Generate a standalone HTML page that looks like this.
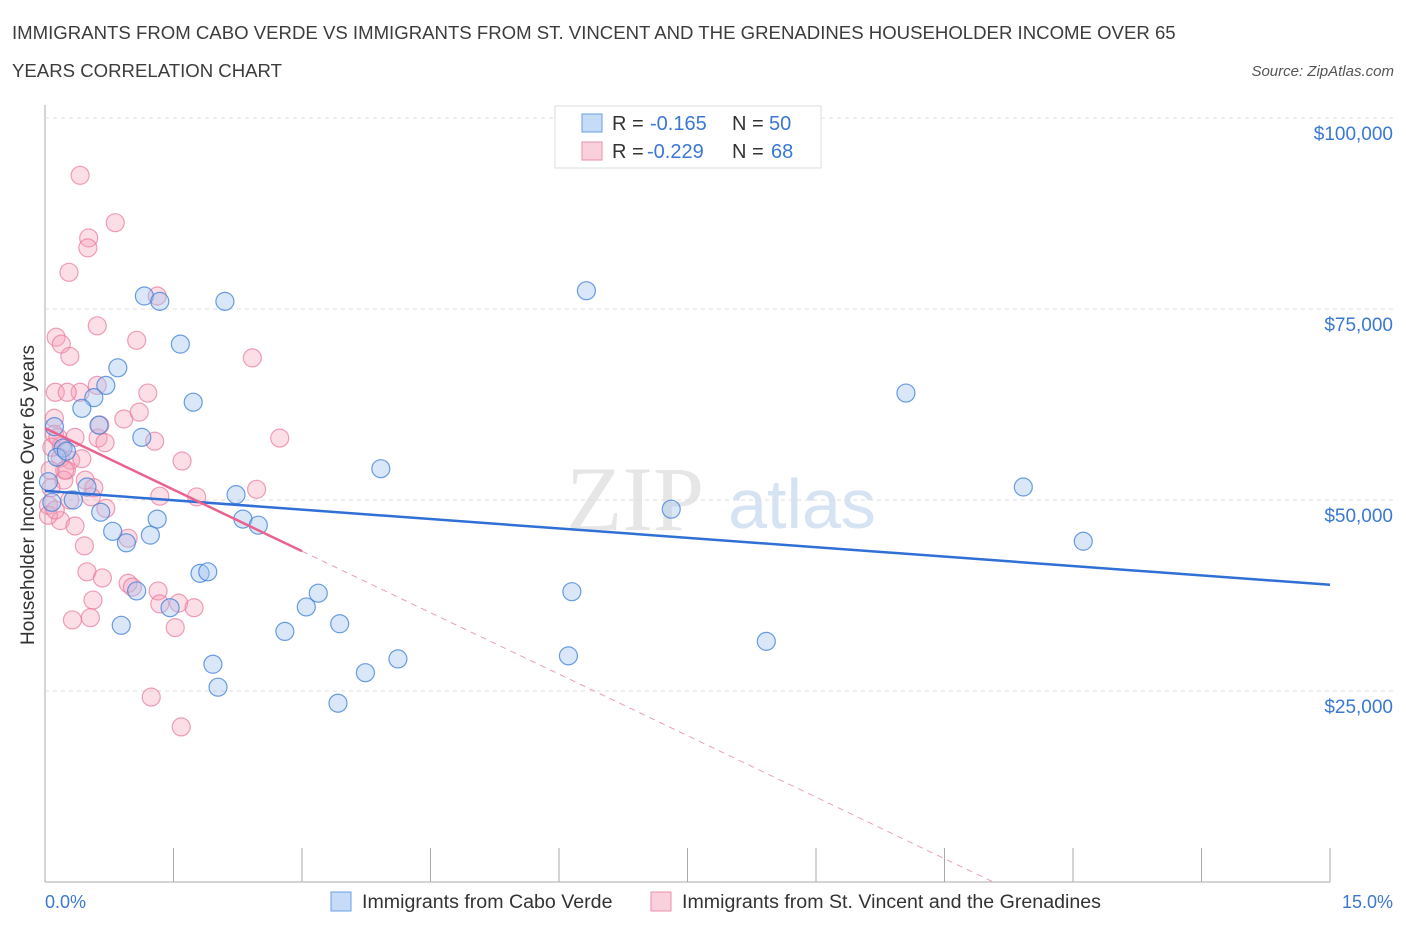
<!DOCTYPE html>
<html><head><meta charset="utf-8"><style>
body{margin:0;background:#fff;font-family:"Liberation Sans",sans-serif}
</style></head><body>
<svg id="c" width="1406" height="930" xmlns="http://www.w3.org/2000/svg" style="font-family:'Liberation Sans',sans-serif">
<text x="12" y="39" font-size="18.6" fill="#3c3c3c">IMMIGRANTS FROM CABO VERDE VS IMMIGRANTS FROM ST. VINCENT AND THE GRENADINES HOUSEHOLDER INCOME OVER 65</text>
<text x="12" y="77" font-size="18.6" fill="#3c3c3c">YEARS CORRELATION CHART</text>
<text x="1394" y="76" font-size="15" font-style="italic" fill="#555" text-anchor="end">Source: ZipAtlas.com</text>
<text x="635" y="530" font-size="92" fill="#e6e6e6" font-family="Liberation Serif,serif" text-anchor="middle">ZIP</text>
<text x="802" y="528" font-size="70" fill="#d6e3f3" text-anchor="middle">atlas</text>
<g id="grid"></g><g id="pts"></g><g id="lines"></g>
<text x="28" y="495" font-size="19" fill="#333" transform="rotate(-90 28 495)" text-anchor="middle" dy="6">Householder Income Over 65 years</text>
<text x="45" y="908" font-size="18" fill="#3b78d4">0.0%</text>
<text x="1393" y="908" font-size="18" fill="#3b78d4" text-anchor="end">15.0%</text>
<g>
<rect x="555" y="106" width="266" height="62" fill="#fff" stroke="#ddd"/>
<rect x="582" y="114" width="20" height="18" fill="#c6dbf7" stroke="#6a9fe0"/>
<rect x="582" y="142" width="20" height="18" fill="#f9d0dc" stroke="#eb8fab"/>
<text x="612" y="130" font-size="20" fill="#333">R =</text>
<text x="650" y="130" font-size="20" fill="#3b78d4">-0.165</text>
<text x="732" y="130" font-size="20" fill="#333">N =</text>
<text x="769" y="130" font-size="20" fill="#3b78d4">50</text>
<text x="612" y="158" font-size="20" fill="#333">R =</text>
<text x="647" y="158" font-size="20" fill="#3b78d4">-0.229</text>
<text x="732" y="158" font-size="20" fill="#333">N =</text>
<text x="771" y="158" font-size="20" fill="#3b78d4">68</text>
</g>
<g>
<rect x="331" y="892" width="20" height="19" fill="#c6dbf7" stroke="#6a9fe0"/>
<text x="362" y="908" font-size="19.6" fill="#333">Immigrants from Cabo Verde</text>
<rect x="651" y="892" width="20" height="19" fill="#f9d0dc" stroke="#eb8fab"/>
<text x="682" y="908" font-size="19.6" fill="#333">Immigrants from St. Vincent and the Grenadines</text>
</g>
</svg>
<script>
const yTicks=[25000,50000,75000,100000];
const yTickLabels=["$25,000","$50,000","$75,000","$100,000"];
const blueX=[1.16,1.34,2.10,6.32,1.58,0.85,0.71,0.57,0.43,1.73,0.63,1.13,0.11,0.21,0.14,0.25,0.49,3.92,2.23,0.33,0.65,0.79,1.23,1.31,2.31,2.49,0.95,7.31,10.05,11.42,12.12,6.15,3.19,3.05,1.07,1.46,1.81,1.90,0.89,2.80,3.44,1.96,4.12,3.74,6.11,8.42,2.02,3.42,0.04,0.08];
const blueY=[76700,76000,76000,77400,70400,67300,65000,63400,62000,62800,59800,58200,59600,56800,55600,56400,51700,54100,50700,50000,48400,45900,45400,47500,47500,46700,44400,48800,64000,51700,44600,38000,37800,36000,38100,35900,40400,40600,33600,32800,33800,28500,29200,27400,29600,31500,25500,23400,52400,49700];
const pinkX=[0.41,0.82,0.51,0.50,0.28,0.61,0.13,0.19,0.29,1.07,0.61,1.31,2.42,0.41,0.12,0.26,0.11,0.92,1.10,1.20,0.11,2.74,0.62,0.35,0.19,0.18,0.30,0.43,1.28,1.60,0.25,0.47,0.22,0.57,0.07,1.34,1.77,2.47,0.54,0.71,0.04,0.18,0.35,0.97,0.46,0.49,0.67,0.97,1.32,1.02,1.34,1.56,1.74,0.56,0.32,0.53,1.52,1.24,1.59,0.08,0.15,0.70,0.04,0.12,0.29,0.64,0.23,0.06];
const pinkY=[92500,86300,84300,83000,79800,72800,71300,70400,68800,70900,65000,76700,68600,64100,64100,64100,60700,60600,61500,64000,58600,58100,58100,58200,57100,55500,55200,55400,57700,55100,53900,52600,52600,51600,51600,50500,50400,51400,50400,48900,49300,47300,46600,45000,44000,40600,39800,39100,38100,38600,36400,36500,35900,36900,34300,34600,33300,24200,20300,56900,58200,57500,48000,48700,50000,59800,53900,53900];
const blueTrend=[51200,38900];
const pinkTrend=[59400,-5366];
const X=v=>45+v/15*1285, Y=v=>882-v/100000*764;
const NS="http://www.w3.org/2000/svg";
function mk(t,a,p){const e=document.createElementNS(NS,t);for(const k in a)e.setAttribute(k,a[k]);p.appendChild(e);return e;}
const g=document.getElementById('grid');
const ax=mk('line',{x1:45,y1:105,x2:45,y2:882,stroke:'#aaa'},g);


const xl=mk('line',{x1:45,y1:882,x2:1330,y2:882,stroke:'#aaa'},g);


for(let i=0;i<=10;i++){const t=mk('line',{x1:X(i*1.5),y1:848,x2:X(i*1.5),y2:882,stroke:'#aaa'},g);

}
yTicks.forEach((v,i)=>{const l=mk('line',{x1:45,y1:Y(v),x2:1393,y2:Y(v),stroke:'#ddd','stroke-dasharray':'4 4'},g);


const t=mk('text',{x:1393,y:Y(v)+22,'font-size':19,fill:'#3b78d4','text-anchor':'end'},g);t.textContent=yTickLabels[i];

});
const p=document.getElementById('pts');
pinkX.forEach((x,i)=>{const c=mk('circle',{cx:X(x),cy:Y(pinkY[i]),r:9,fill:'rgba(245,160,185,0.35)',stroke:'rgba(232,120,155,0.7)','stroke-width':1.2},p);

});
blueX.forEach((x,i)=>{const c=mk('circle',{cx:X(x),cy:Y(blueY[i]),r:9,fill:'rgba(160,195,240,0.4)',stroke:'rgba(60,125,215,0.75)','stroke-width':1.2},p);

});
const L=document.getElementById('lines');
const bl=mk('line',{x1:X(0),y1:Y(blueTrend[0]),x2:X(15),y2:Y(blueTrend[1]),stroke:'#2f6fd6','stroke-width':2.5},L);


const pz=-pinkTrend[0]/pinkTrend[1];
const ps=mk('line',{x1:X(0),y1:Y(pinkTrend[0]),x2:X(3),y2:Y(pinkTrend[0]+3*pinkTrend[1]),stroke:'#e8638e','stroke-width':2.5},L);


const pd=mk('line',{x1:X(3),y1:Y(pinkTrend[0]+3*pinkTrend[1]),x2:X(pz),y2:Y(0),stroke:'#e8a0b8','stroke-width':1,'stroke-dasharray':'6 5'},L);


</script>
</body></html>
